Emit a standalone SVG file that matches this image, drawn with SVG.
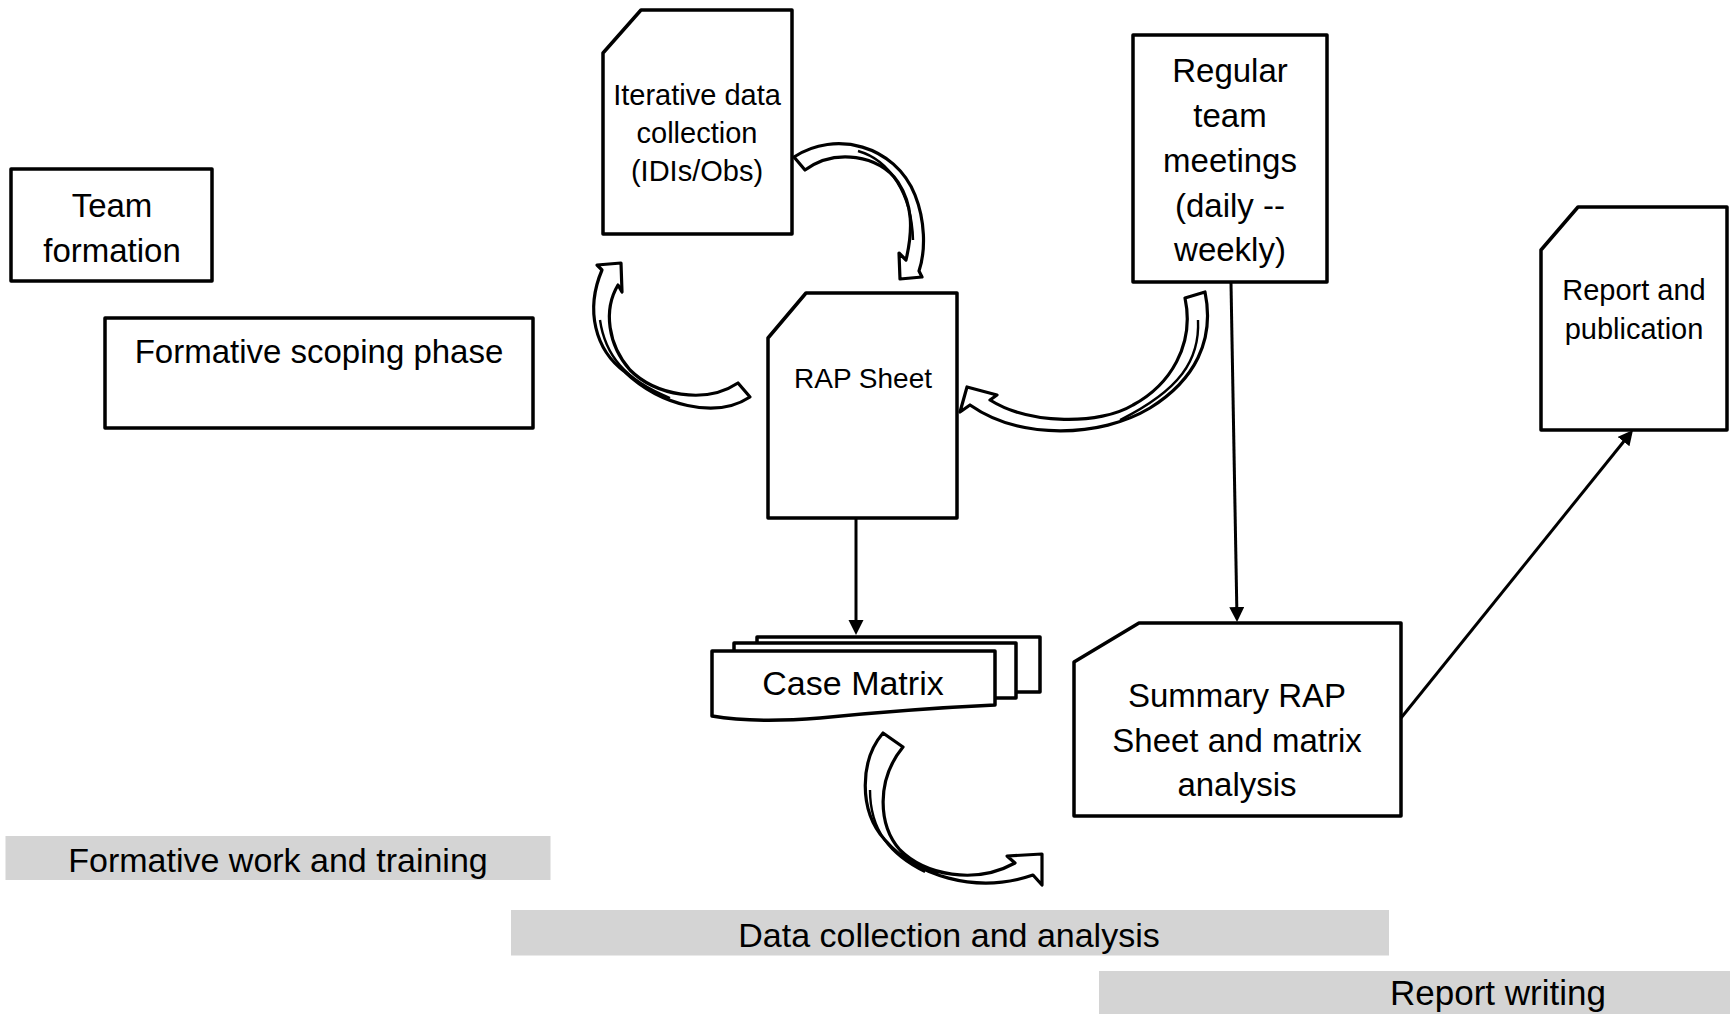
<svg xmlns="http://www.w3.org/2000/svg" width="1730" height="1014" viewBox="0 0 1730 1014">
  <defs>
    <style>
      .box { fill: #ffffff; stroke: #000000; stroke-width: 3.5; stroke-linejoin: round; }
      .bar { fill: #d4d4d4; stroke: none; }
      .t { font-family: "Liberation Sans", Arial, sans-serif; fill: #000000; text-anchor: middle; }
      .conn { fill: none; stroke: #000000; stroke-width: 3; }
      .curved { fill: #ffffff; stroke: #000000; stroke-width: 3.2; stroke-linejoin: round; }
      .xline { fill: none; stroke: #000000; stroke-width: 2.4; }
    </style>
    <marker id="ah" markerUnits="userSpaceOnUse" markerWidth="16" markerHeight="16" refX="7" refY="7.5" orient="auto">
      <path d="M0,0 L15,7.5 L0,15 Z" fill="#000000"/>
    </marker>
  </defs>

  <rect width="1730" height="1014" fill="#ffffff"/>

  <!-- phase bars -->
  <g id="bar-formative">
    <rect class="bar" x="5.5" y="836" width="545" height="44"/>
    <text class="t" x="278" y="872" font-size="34">Formative work and training</text>
  </g>
  <g id="bar-data">
    <rect class="bar" x="511" y="910" width="878" height="45.5"/>
    <text class="t" x="949" y="947" font-size="34">Data collection and analysis</text>
  </g>
  <g id="bar-report">
    <rect class="bar" x="1099" y="971" width="631" height="43"/>
    <text class="t" x="1498" y="1005" font-size="35">Report writing</text>
  </g>

  <!-- nodes -->
  <g id="team-formation">
    <rect class="box" x="11" y="169" width="201" height="112"/>
    <text class="t" x="112" y="217" font-size="33">Team</text>
    <text class="t" x="112" y="262" font-size="33">formation</text>
  </g>

  <g id="formative-scoping">
    <rect class="box" x="105" y="318" width="428" height="110"/>
    <text class="t" x="319" y="363" font-size="33">Formative scoping phase</text>
  </g>

  <g id="iterative-data">
    <path class="box" d="M641,10 H792 V234 H603 V53 Z"/>
    <text class="t" x="697" y="105" font-size="29">Iterative data</text>
    <text class="t" x="697" y="143" font-size="29">collection</text>
    <text class="t" x="697" y="181" font-size="29">(IDIs/Obs)</text>
  </g>

  <g id="rap-sheet">
    <path class="box" d="M806,293 H957 V518 H768 V338 Z"/>
    <text class="t" x="863" y="388" font-size="28">RAP Sheet</text>
  </g>

  <g id="team-meetings">
    <rect class="box" x="1133" y="35" width="194" height="247"/>
    <text class="t" x="1230" y="82" font-size="33">Regular</text>
    <text class="t" x="1230" y="127" font-size="33">team</text>
    <text class="t" x="1230" y="172" font-size="33">meetings</text>
    <text class="t" x="1230" y="217" font-size="33">(daily --</text>
    <text class="t" x="1230" y="261" font-size="33">weekly)</text>
  </g>

  <g id="report-publication">
    <path class="box" d="M1578,207 H1727 V430 H1541 V250 Z"/>
    <text class="t" x="1634" y="300" font-size="29">Report and</text>
    <text class="t" x="1634" y="339" font-size="29">publication</text>
  </g>

  <g id="case-matrix">
    <rect class="box" x="757" y="637" width="283" height="55"/>
    <rect class="box" x="734" y="643" width="282" height="55"/>
    <path class="box" d="M712,651 H995 V705 C930,708 880,712 820,718 C770,722 735,720 712,716 Z"/>
    <text class="t" x="853" y="695" font-size="34">Case Matrix</text>
  </g>

  <g id="summary-rap">
    <path class="box" d="M1139,623 H1401 V816 H1074 V662 Z"/>
    <text class="t" x="1237" y="707" font-size="33">Summary RAP</text>
    <text class="t" x="1237" y="752" font-size="33">Sheet and matrix</text>
    <text class="t" x="1237" y="796" font-size="33">analysis</text>
  </g>

  <!-- connectors -->
  <g id="connectors">
    <line class="conn" x1="856" y1="519" x2="856" y2="627" marker-end="url(#ah)"/>
    <line class="conn" x1="1231" y1="283" x2="1236.9" y2="614" marker-end="url(#ah)"/>
    <line class="conn" x1="1401" y1="718" x2="1628" y2="436.2" marker-end="url(#ah)"/>

    <!-- curved block arrow: iterative -> RAP -->
    <path class="curved" d="M794,157 C835,130 895,145 915,195 C925,220 926,250 919,271 L922,277 L900,279 L899,253 L906,260 C913,230 913,205 898,182 C880,155 835,148 805,170 Z"/>
    <path class="xline" d="M858,151 C890,160 912,195 913,240"/>

    <!-- curved block arrow: RAP -> iterative -->
    <path class="curved" d="M602,270 C585,310 595,350 625,372 C660,405 715,420 750,397 L738,383 C705,405 655,395 630,370 C608,345 603,310 618,285 L622,292 L621,263 L597,265 Z"/>
    <path class="xline" d="M600,320 C605,355 625,380 670,398"/>

    <!-- curved block arrow: meetings -> RAP -->
    <path class="curved" d="M1205,292 C1215,340 1195,380 1150,408 C1100,438 1020,440 970,405 L960,412 L967,387 L997,395 L990,400 C1030,425 1100,425 1133,405 C1170,385 1195,345 1185,298 Z"/>
    <path class="xline" d="M1198,320 C1200,360 1180,390 1120,420"/>

    <!-- curved block arrow: case matrix -> report phase -->
    <path class="curved" d="M883,733 C860,760 858,810 885,840 C915,875 975,895 1033,875 L1042,885 L1042,854 L1007,856 L1015,863 C975,885 925,875 900,850 C878,825 876,780 903,747 Z"/>
    <path class="xline" d="M870,790 C870,830 890,855 925,872"/>
  </g>
</svg>
